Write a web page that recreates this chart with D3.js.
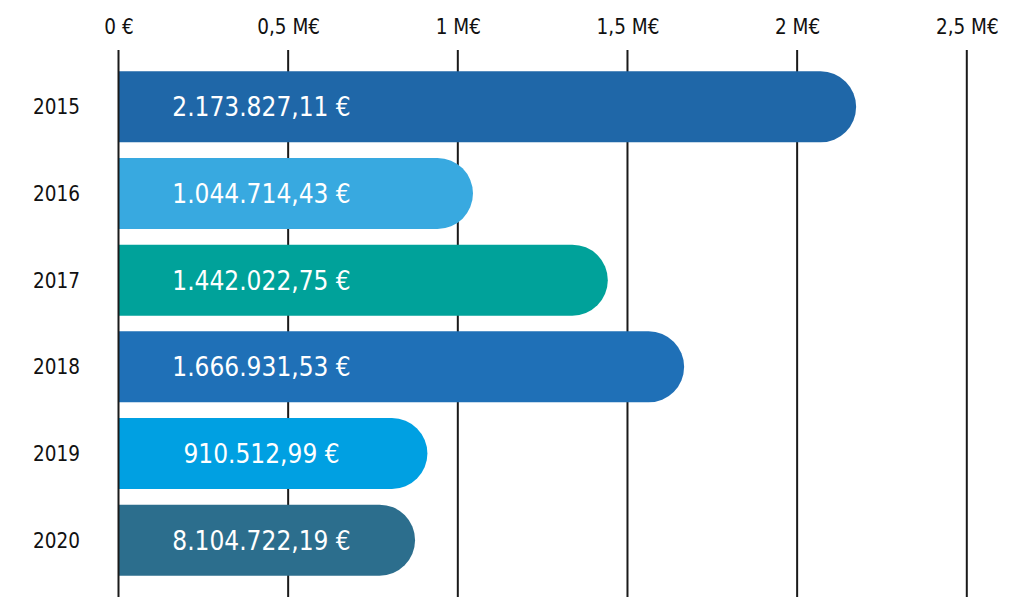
<!DOCTYPE html>
<html>
<head>
<meta charset="utf-8">
<script src="https://cdn.jsdelivr.net/npm/d3@7"></script>
<style>
  body { margin: 0; background: #fff; }
  svg { display: block; }
  text { font-family: "DejaVu Sans Condensed", "DejaVu Sans", sans-serif; }
</style>
</head>
<body>
<svg></svg>
<script>
var screen = {width:1016,height:597}
var margins = {top:50,right:50,bottom:0,left:118.5}

// data
var years = ["2015","2016","2017","2018","2019","2020"]
var amounts = [2173827.11, 1044714.43, 1442022.75, 1666931.53, 910512.99, 874000]
var amountLabels = ["2.173.827,11 €","1.044.714,43 €","1.442.022,75 €","1.666.931,53 €","910.512,99 €","8.104.722,19 €"]
var barColors = ["#1f67a8","#38a9e0","#00a29a","#1f70b7","#00a0e2","#2c6e8d"]
var tickValues = [0, 500000, 1000000, 1500000, 2000000, 2500000]
var tickLabels = ["0 €","0,5 M€","1 M€","1,5 M€","2 M€","2,5 M€"]

var width = 966.8 - margins.left
var height = screen.height - margins.top

var svg = d3.select("svg")
    .attr("width",screen.width)
    .attr("height",screen.height)

var xScale = d3.scaleLinear()
    .domain([0,2500000])
    .range([0,width])

//bands: 6 steps of ~86.7px, bars 71px tall
var yScale = d3.scaleBand()
    .domain(years)
    .range([63.5-margins.top, 583.5-margins.top])
    .paddingInner(0.18)
    .paddingOuter(0.09)

var graph = svg.append("g")
    .attr("transform","translate("+margins.left+","+margins.top+")")

// top axis, labels only (lines drawn separately)
var xAxis = d3.axisTop(xScale)
    .tickValues(tickValues)
    .tickSize(0)
    .tickFormat(function(d,i){ return tickLabels[i] })

var axisG = graph.append("g")
    .attr("class","xAxis")
    .call(xAxis)
axisG.select(".domain").remove()
axisG.selectAll("text")
    .attr("y",-16)
    .attr("dy",0)
    .attr("font-size","20.5px")
    .attr("font-family","DejaVu Sans Condensed, DejaVu Sans, sans-serif")
    .attr("fill","#111")

graph.selectAll(".grid")
    .data(tickValues.slice(1))
    .enter()
    .append("line")
    .attr("class","grid")
    .attr("x1",function(d){ return xScale(d) })
    .attr("x2",function(d){ return xScale(d) })
    .attr("y1",0)
    .attr("y2",height)
    .attr("stroke","#1a1a1a")
    .attr("stroke-width",2)

// bars: square left end, fully rounded right end
var barPath = function(i)
{
    var x0 = xScale(0), x1 = xScale(amounts[i])
    var y0 = yScale(years[i]), h = yScale.bandwidth(), r = h/2
    return "M"+x0+","+y0+
        "H"+(x1-r)+
        "A"+r+","+r+" 0 0 1 "+(x1-r)+","+(y0+h)+
        "H"+x0+"Z"
}

graph.selectAll(".bar")
    .data(amounts)
    .enter()
    .append("path")
    .attr("class","bar")
    .attr("d",function(d,i){ return barPath(i) })
    .attr("fill",function(d,i){ return barColors[i] })

// zero line drawn on top
graph.append("line")
    .attr("x1",xScale(0))
    .attr("x2",xScale(0))
    .attr("y1",0)
    .attr("y2",height)
    .attr("stroke","#1a1a1a")
    .attr("stroke-width",2)

graph.selectAll(".valueLabel")
    .data(amountLabels)
    .enter()
    .append("text")
    .attr("class","valueLabel")
    .attr("x",xScale(0)+143)
    .attr("y",function(d,i){ return yScale(years[i]) + yScale.bandwidth()/2 })
    .attr("dy","0.36em")
    .attr("text-anchor","middle")
    .attr("font-size","26px")
    .attr("fill","#fff")
    .text(function(d){ return d })

// year labels on the left
graph.selectAll(".yearLabel")
    .data(years)
    .enter()
    .append("text")
    .attr("class","yearLabel")
    .attr("x",80-margins.left)
    .attr("y",function(d){ return yScale(d) + yScale.bandwidth()/2 })
    .attr("dy","0.36em")
    .attr("text-anchor","end")
    .attr("font-size","20.5px")
    .attr("fill","#111")
    .text(function(d){ return d })
</script>
</body>
</html>
